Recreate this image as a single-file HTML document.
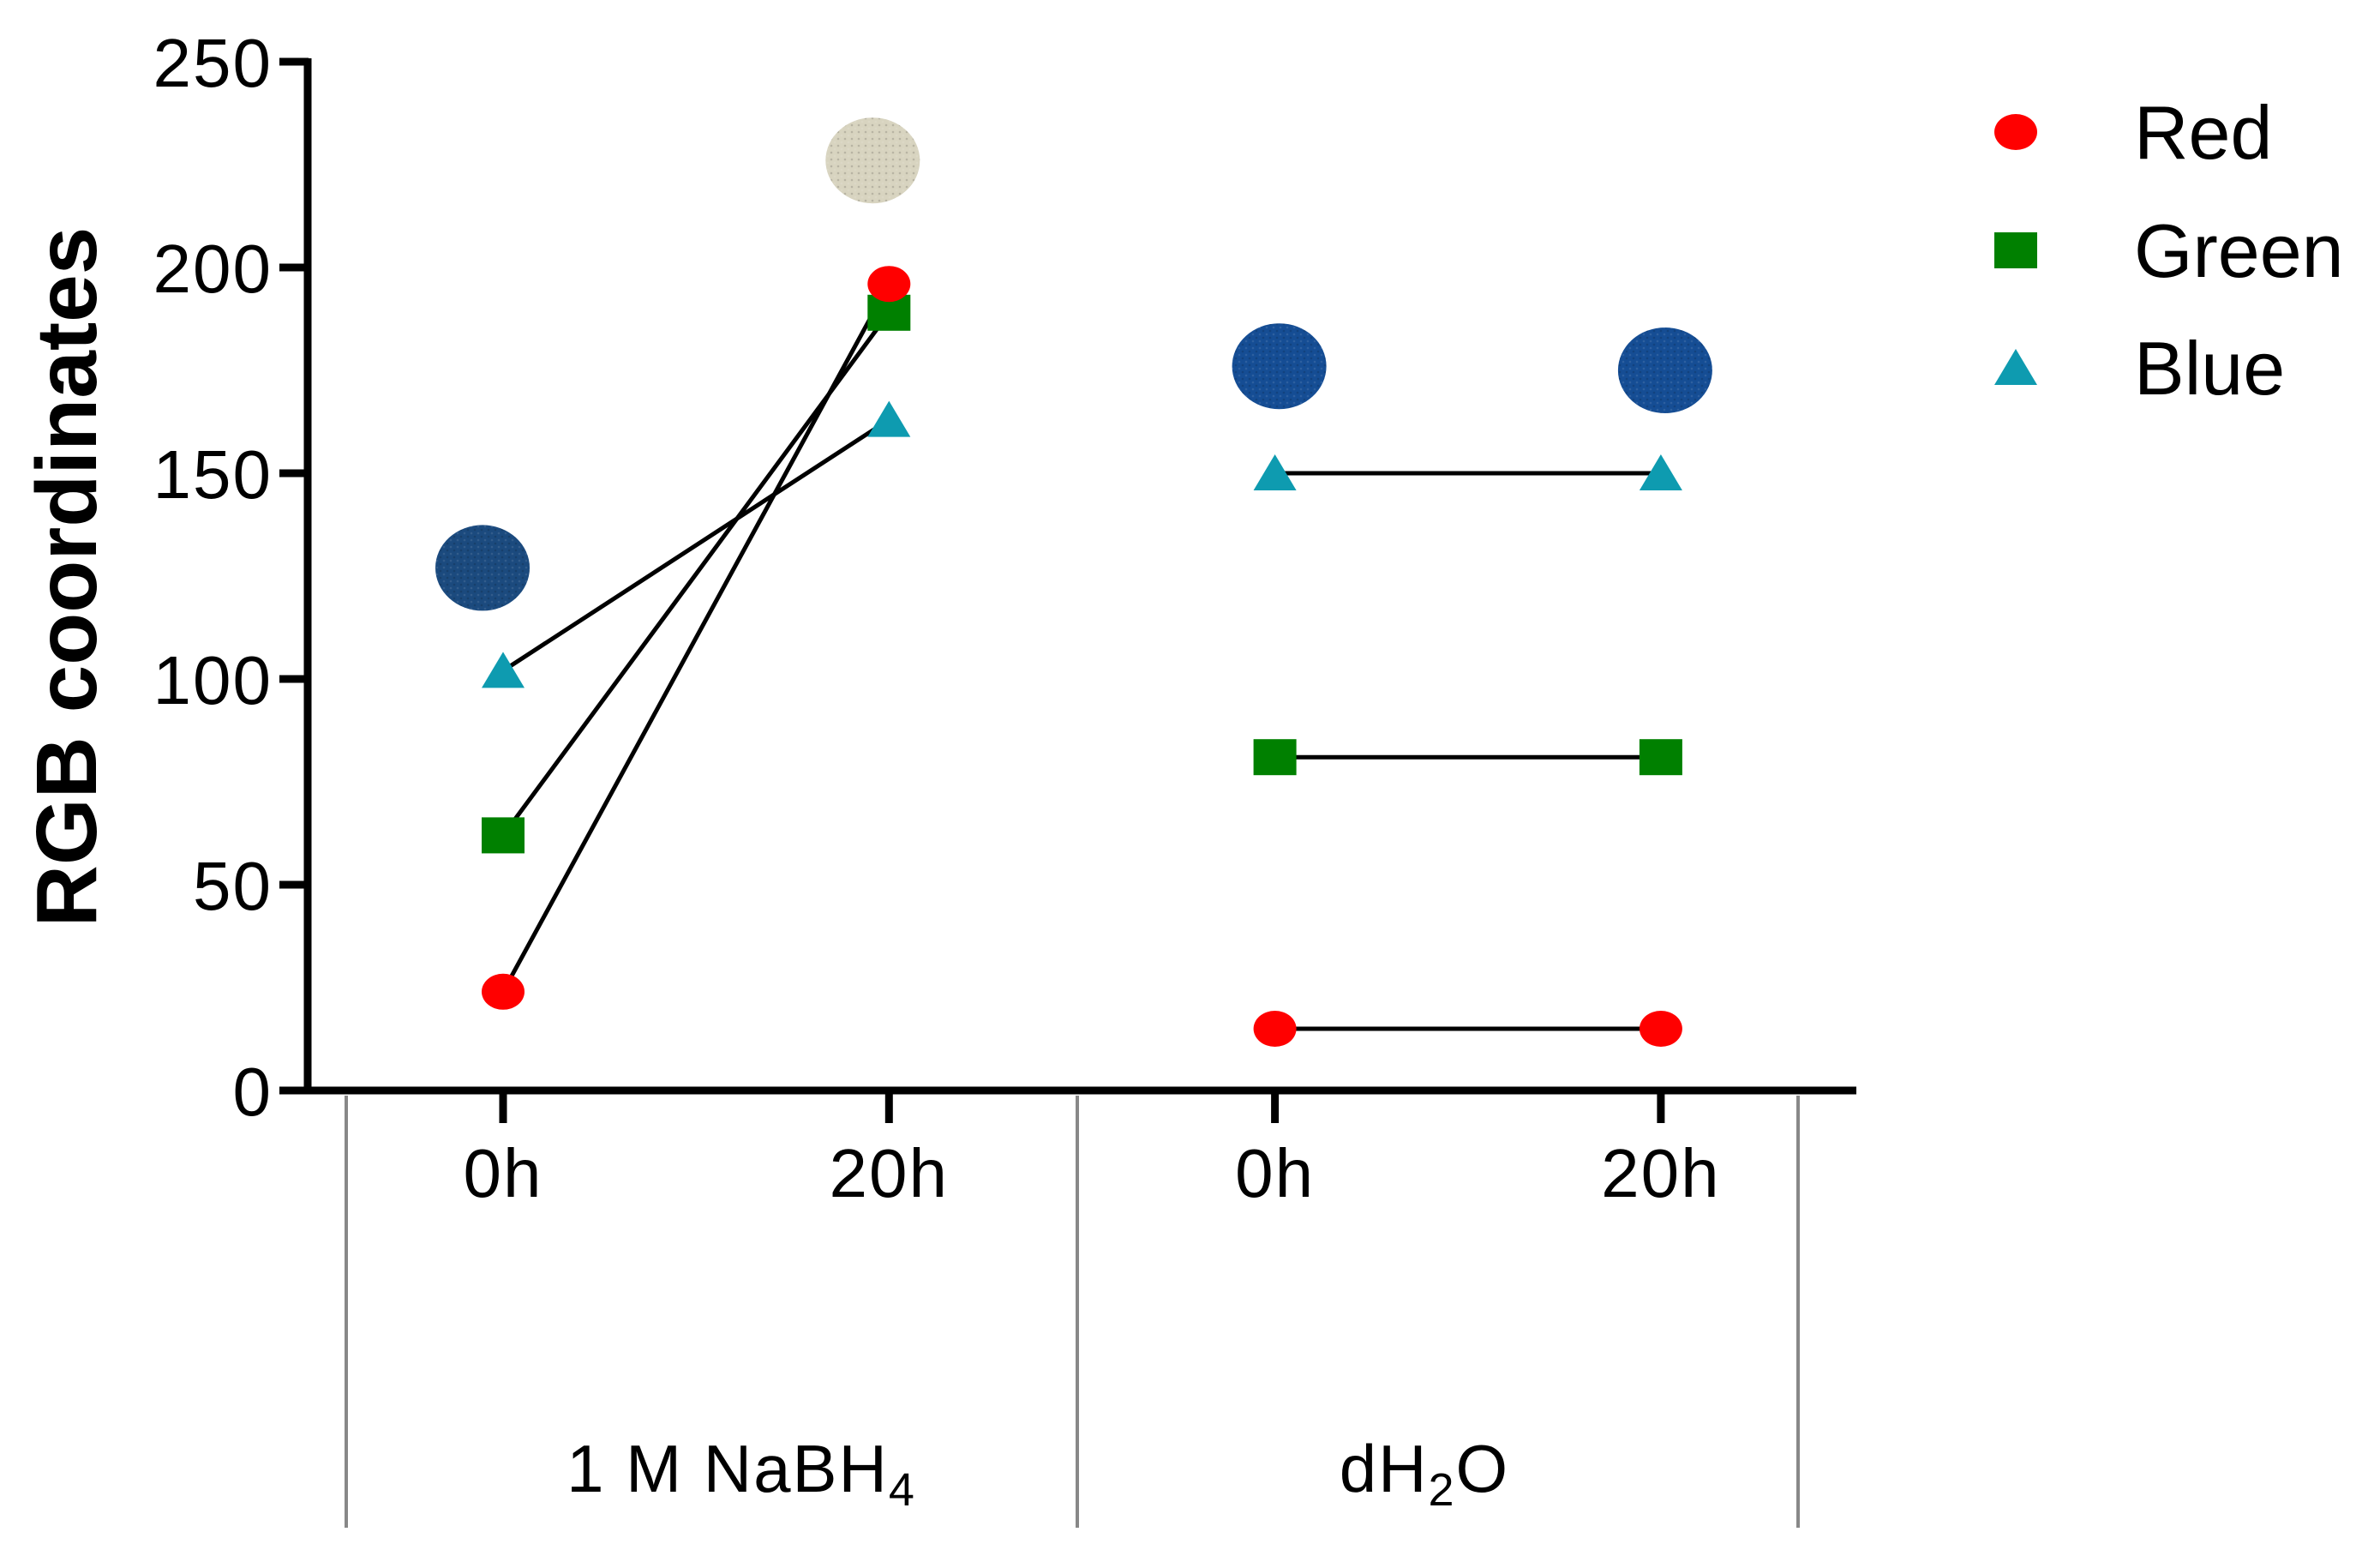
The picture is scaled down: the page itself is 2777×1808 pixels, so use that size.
<!DOCTYPE html>
<html><head><meta charset="utf-8"><style>
html,body{margin:0;padding:0;background:#fff;}
svg{display:block;font-family:"Liberation Sans",sans-serif;}
</style></head><body>
<svg id="chart" width="2777" height="1808" viewBox="0 0 2777 1808" xmlns="http://www.w3.org/2000/svg">
<defs>
<pattern id="knit" width="8" height="8" patternUnits="userSpaceOnUse"><rect width="8" height="8" fill="none"/><circle cx="2" cy="2" r="1.3" fill="rgba(0,0,0,0.15)"/><circle cx="6" cy="6" r="1.3" fill="rgba(255,255,255,0.1)"/></pattern>
</defs>
<g id="plot"></g>
</svg>
<script>
const categories = ["0h","20h","0h","20h"];
const groups = ["1 M NaBH4","dH2O"];
const redVals = [24,196,15,15];
const greenVals = [62,189,81,81];
const blueVals = [102,163,150,150];
const swatchVals = [127,226,176,175];
const swatchColors = ["#1b4a7e","#d8d4c0","#154d94","#154d94"];
const yTicks = [0,50,100,150,200,250];

const NS="http://www.w3.org/2000/svg";
const g=document.getElementById('plot');
const X0=587, XSTEP=450.3;
function xs(i){return X0+i*XSTEP;}
function ys(v){return 1272-(v/250)*1200;}
function mk(tag,attrs,parent){const e=document.createElementNS(NS,tag);for(const k in attrs)e.setAttribute(k,attrs[k]);(parent||g).appendChild(e);return e;}

swatchVals.forEach((v,i)=>{
  const dx=[-24,-19,5,5][i];
  const e=mk('ellipse',{cx:xs(i)+dx,cy:ys(v),rx:55,ry:50,fill:swatchColors[i]});
  
  
  const p=mk('ellipse',{cx:xs(i)+dx,cy:ys(v),rx:55,ry:50,fill:'url(#knit)'});
  
  
});

[redVals,greenVals,blueVals].forEach((arr,s)=>{
  [0,2].forEach(i=>{
    const l=mk('line',{x1:xs(i),y1:ys(arr[i]),x2:xs(i+1),y2:ys(arr[i+1]),stroke:'#000','stroke-width':5});
    
    
  });
});

function circle(x,y,name){const e=mk('ellipse',{cx:x,cy:y,rx:25,ry:21,fill:'#ff0000'});}
function square(x,y,name){const e=mk('rect',{x:x-25,y:y-21,width:50,height:42,fill:'#008000'});}
function tri(x,y,name){const e=mk('polygon',{points:`${x-25},${y+20} ${x+25},${y+20} ${x},${y-22}`,fill:'#0e9bb0'});}
categories.forEach((c,i)=>{
  tri(xs(i),ys(blueVals[i]),'blue-point-'+i);
  square(xs(i),ys(greenVals[i]),'green-point-'+i);
  circle(xs(i),ys(redVals[i]),'red-point-'+i);
});

let a=mk('line',{x1:359,y1:68,x2:359,y2:1276,stroke:'#000','stroke-width':9});

a=mk('line',{x1:355,y1:1272,x2:2166,y2:1272,stroke:'#000','stroke-width':9});

yTicks.forEach(t=>{
  const l=mk('line',{x1:326,y1:ys(t),x2:360,y2:ys(t),stroke:'#000','stroke-width':9});
  
  const tx=mk('text',{x:318,y:ys(t)+29,'text-anchor':'end','font-size':80,'letter-spacing':2});
  tx.textContent=t;
  
});
categories.forEach((c,i)=>{
  const l=mk('line',{x1:xs(i),y1:1272,x2:xs(i),y2:1310,stroke:'#000','stroke-width':9});
  
  const tx=mk('text',{x:xs(i),y:1396,'text-anchor':'middle','font-size':80,'letter-spacing':2});
  tx.textContent=c;
  
});
[404,1257,2098].forEach((x,i)=>{
  const l=mk('line',{x1:x,y1:1278,x2:x,y2:1782,stroke:'#888','stroke-width':4});
  
});
let gt=mk('text',{x:865,y:1740,'text-anchor':'middle','font-size':78,'letter-spacing':2});
gt.innerHTML='1 M NaBH<tspan font-size="54" dy="16">4</tspan>';

gt=mk('text',{x:1662,y:1740,'text-anchor':'middle','font-size':78,'letter-spacing':2});
gt.innerHTML='dH<tspan font-size="54" dy="16">2</tspan><tspan dy="-16">O</tspan>';


let yt=mk('text',{x:0,y:0,'text-anchor':'middle','font-size':100,'font-weight':'bold',transform:'translate(112,673) rotate(-90)'});
yt.textContent='RGB coordinates';


const legY=[154,292,429], legN=['Red','Green','Blue'];
circle(2352,legY[0],'legend-marker-red');
square(2352,legY[1],'legend-marker-green');
tri(2352,legY[2],'legend-marker-blue');
legN.forEach((n,i)=>{
  const t=mk('text',{x:2490,y:legY[i]+31,'font-size':88});
  t.textContent=n;
  
});
</script>
</body></html>
